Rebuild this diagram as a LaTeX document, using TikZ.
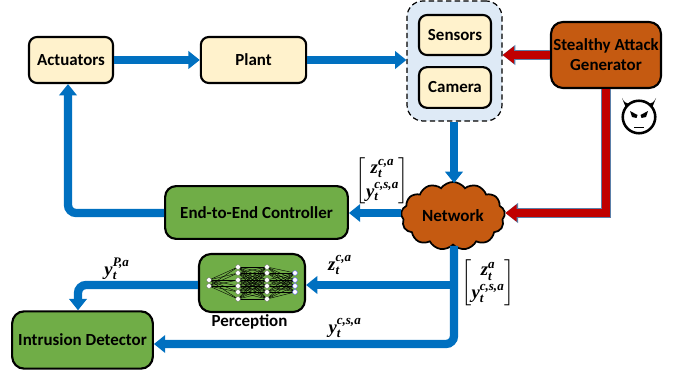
\documentclass[tikz,border=0pt]{standalone}
\usepackage{amsmath}
\usepackage{fontspec}
\setmainfont{Carlito}
\newfontfamily\mathletters{Liberation Serif}[BoldItalicFont={Liberation Serif Bold Italic}]
\newcommand{\bv}[1]{\text{\mathletters\bfseries\itshape #1}}
\usetikzlibrary{arrows.meta,shapes.symbols,calc}
\definecolor{bluef}{HTML}{0070C0}
\definecolor{redf}{HTML}{C00000}
\definecolor{creamf}{HTML}{FFF2CC}
\definecolor{greenf}{HTML}{70AD47}
\definecolor{orangef}{HTML}{C55A11}
\definecolor{paleb}{HTML}{DEEAF6}
\definecolor{edgeb}{HTML}{5B7FA8}
\tikzset{
  boxbase/.style={draw=black,line width=1.6pt,rounded corners=6pt,inner sep=0pt,font=\bfseries\fontsize{12.7}{14}\selectfont,align=center},
  cream/.style={boxbase,fill=creamf},
  green box/.style={boxbase,fill=greenf},
  blueflow/.style={draw=bluef,line width=6.2pt,rounded corners=6pt,-{Triangle[width=13pt,length=8.5pt]}},
  redflow/.style={preaction={draw=edgeb,line width=7pt,-{Triangle[width=14.5pt,length=9.5pt]}},draw=redf,line width=6pt,-{Triangle[width=12.5pt,length=8.5pt]}},
  mathlabel/.style={inner sep=0pt,font=\fontsize{14}{15}\selectfont},
}
\begin{document}
\begin{tikzpicture}[x=0.75pt,y=-0.75pt]
\useasboundingbox (0,0) rectangle (681,377);
% sensor group
\node[draw=black,dash pattern=on 4pt off 2.5pt,line width=0.9pt,fill=paleb,rounded corners=12pt,minimum width=71.25pt,minimum height=90pt,inner sep=0pt] (group) at (454.5,61) {};
% nodes
\node[cream,minimum width=63pt,minimum height=34.5pt] (act) at (71,60) {Actuators};
\node[cream,minimum width=79pt,minimum height=34.5pt] (plant) at (253.5,60) {Plant};
\node[cream,minimum width=54pt,minimum height=30pt] (sens) at (455,35) {Sensors};
\node[cream,minimum width=54pt,minimum height=30.5pt] (cam) at (455,87.5) {Camera};
\node[boxbase,fill=orangef,minimum width=82.5pt,minimum height=49.5pt,rounded corners=9pt] (attack) at (606,55) {Stealthy Attack\\[1pt]Generator};
\node[green box,minimum width=137pt,minimum height=39.5pt,rounded corners=8pt] (ctrl) at (256.5,212.5) {End-to-End Controller};
\node[green box,minimum width=79.5pt,minimum height=43.5pt,rounded corners=9pt] (perc) at (252,283) {};
\node[green box,minimum width=105.5pt,minimum height=43pt,rounded corners=9pt] (ids) at (82.5,340) {Intrusion Detector};
\node[cloud,cloud puffs=13,cloud puff arc=110,aspect=1.55,draw=black,line width=1.3pt,fill=orangef,inner sep=0pt,minimum width=78pt,minimum height=51pt,font=\bfseries\fontsize{12.8}{14}\selectfont] (net) at (453,216) {Network};
\node[inner sep=0pt,font=\bfseries\fontsize{12.7}{14}\selectfont] (perclabel) at (249.5,322) {Perception};
% turning points and junctions
\coordinate (c1) at (68,213);
\coordinate (c2) at (454,344);
\coordinate (c3) at (78,285);
\coordinate (c4) at (606,213);
\coordinate (j1) at (454,285);
\coordinate (j2) at (454,183);
% blue connectors
\draw[blueflow] (act.east) -- (plant.west);
\draw[blueflow] (plant.east) -- (plant.east -| group.west);
\draw[blueflow] (group.south -| j2) -- (j2);
\draw[blueflow] (net.west |- c1) -- (ctrl.east |- c1);
\draw[blueflow] (ctrl.west |- c1) -- (c1) -- (act.south -| c1);
\draw[blueflow] (j1) -- (j1 -| perc.east);
\draw[blueflow] (perc.west |- c3) -- (c3) -- (c3 |- ids.north);
\draw[blueflow] (net.south -| j1) -- (c2) -- (ids.east |- c2);
% red connectors
\draw[redflow] (attack.west) -- (attack.west -| group.east);
\draw[redflow] (attack.south -| c4) -- (c4) -- (net.east |- c4);
% neural net
\foreach \xa/\ya in {209/280,209/286}{\foreach \yb in {267,273,280,286,292,299}{\draw[black,line width=0.3pt] (\xa,\ya) -- (238,\yb);}}
\foreach \ya in {267,273,280,286,292,299}{\foreach \yb in {267,273,280,286,292,299}{\draw[black,line width=0.3pt] (238,\ya) -- (267,\yb);}}
\foreach \ya in {267,273,280,286,292,299}{\foreach \yb in {273,280,286,292}{\draw[black,line width=0.3pt] (267,\ya) -- (295,\yb);}}
\foreach \y in {280,286}{\fill[white,draw=black!60,line width=0.2pt] (209,\y) circle (1.8pt);}
\foreach \x in {238,267}{\foreach \y in {267,273,280,286,292,299}{\fill[white,draw=black!60,line width=0.2pt] (\x,\y) circle (1.8pt);}}
\foreach \y in {273,280,286,292}{\fill[white,draw=blue!60,line width=0.3pt] (295,\y) circle (1.8pt);}
% math labels
\node[mathlabel] (m1) at (382.5,181) {$\begin{bmatrix} \bv{z}_{\bv{t}}^{\bv{c,a}}\\[2pt] \bv{y}_{\bv{t}}^{\bv{c,s,a}}\end{bmatrix}$};
\node[mathlabel] (m2) at (488,283) {$\begin{bmatrix} \bv{z}_{\bv{t}}^{\bv{a}}\\[2pt] \bv{y}_{\bv{t}}^{\bv{c,s,a}}\end{bmatrix}$};
\node[mathlabel] (m3) at (117,269) {$\bv{y}_{\bv{t}}^{\bv{P,a}}$};
\node[mathlabel] (m4) at (340,265) {$\bv{z}_{\bv{t}}^{\bv{c,a}}$};
\node[mathlabel] (m5) at (345,328) {$\bv{y}_{\bv{t}}^{\bv{c,s,a}}$};
% devil face
\begin{scope}[shift={(639,117)}]
\fill[black] (-17,-19) .. controls (-13,-11) and (-9,-13) .. (-5,-17) -- (-13,-9) -- cycle;
\fill[black] (17,-19) .. controls (13,-11) and (9,-13) .. (5,-17) -- (13,-9) -- cycle;
\draw[black,line width=1.9pt,fill=white] (0,0) circle (12.2pt);
\fill[black] (-9,-6) -- (-1.5,-2) -- (-2.5,1) -- (-7,0) -- cycle;
\fill[black] (9,-6) -- (1.5,-2) -- (2.5,1) -- (7,0) -- cycle;
\draw[black,line width=0.7pt] (-5,10) -- (5,10);
\end{scope}
\end{tikzpicture}
\end{document}
